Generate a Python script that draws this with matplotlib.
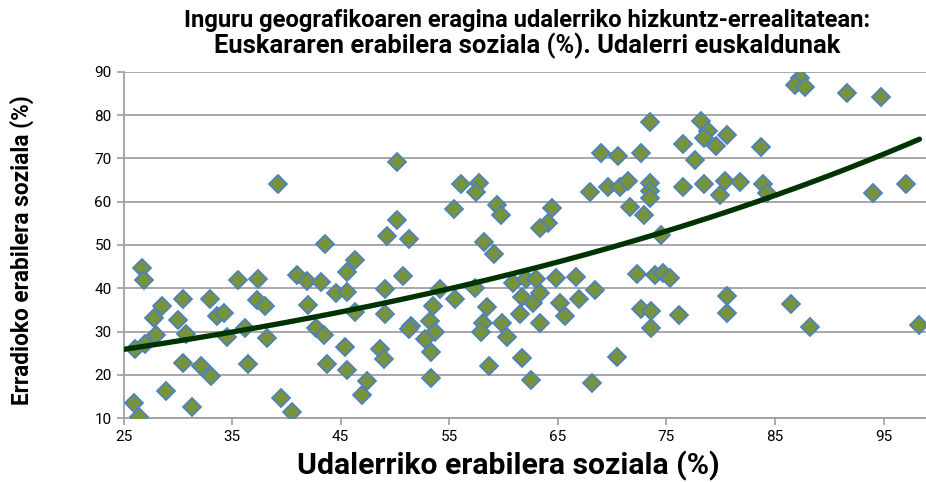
import numpy as np
import matplotlib
matplotlib.use("Agg")
import matplotlib.pyplot as plt

# Udalerriko erabilera soziala (%)
x_vals = [26.7, 26.9, 28.5, 27.8, 28.0, 27.0, 26.1, 30.5, 30.0, 30.8, 33.0, 33.6, 34.3, 34.5,
          30.5, 32.1, 33.1, 28.9, 26.0, 26.4, 31.3, 35.5, 39.2, 37.4, 37.3, 38.0, 36.2, 38.2,
          36.5, 39.5, 40.5, 43.6, 41.0, 41.9, 43.2, 42.0, 42.7, 43.5, 43.7, 44.6, 45.6, 45.6,
          45.4, 45.6, 50.2, 50.2, 49.3, 51.3, 55.4, 56.1, 46.3, 46.3, 50.7, 49.1, 49.1, 54.1,
          55.5, 53.5, 53.2, 51.5, 51.3, 53.7, 52.8, 53.3, 48.6, 49.0, 47.4, 47.0, 53.3, 57.7,
          57.5, 59.4, 59.8, 64.5, 64.1, 63.4, 58.2, 59.1, 57.4, 58.5, 58.1, 57.9, 59.9, 60.3,
          58.7, 61.7, 62.5, 60.9, 62.1, 63.0, 61.7, 62.7, 63.4, 61.5, 63.4, 64.8, 65.2, 65.7,
          66.7, 66.9, 73.5, 69.0, 70.5, 72.7, 76.5, 77.6, 68.0, 69.6, 70.7, 71.5, 73.5, 73.5,
          73.5, 71.6, 72.9, 76.5, 74.5, 68.4, 72.3, 73.9, 74.7, 75.3, 72.7, 73.6, 73.6, 76.2,
          70.4, 68.1, 87.3, 86.8, 87.8, 78.2, 78.8, 78.5, 79.6, 80.6, 83.7, 78.5, 80.4, 81.8,
          79.9, 83.9, 84.3, 80.6, 80.6, 86.5, 88.2, 91.6, 94.8, 94.0, 97.1, 98.3]
# Erradioko erabilera soziala (%)
y_vals = [44.8, 41.9, 35.9, 33.1, 29.2, 27.2, 25.9, 37.5, 32.7, 29.5, 37.5, 33.6, 34.4, 28.8,
          22.7, 22.1, 19.8, 16.4, 13.6, 10.2, 12.5, 41.9, 64.1, 42.1, 37.2, 35.9, 30.8, 28.6,
          22.5, 14.7, 11.5, 50.2, 43.1, 41.8, 41.5, 36.2, 30.8, 29.2, 22.5, 39.0, 43.8, 39.2,
          26.5, 21.1, 69.2, 55.8, 52.1, 51.5, 58.4, 64.1, 46.5, 34.6, 42.9, 39.9, 34.1, 39.8,
          37.5, 36.0, 32.5, 31.2, 30.6, 30.0, 28.3, 25.2, 26.0, 23.7, 18.6, 15.4, 19.4, 64.2,
          62.3, 59.2, 56.9, 58.5, 55.0, 53.9, 50.8, 47.9, 40.1, 35.8, 32.1, 30.0, 32.1, 28.7,
          22.1, 23.9, 18.8, 41.2, 42.1, 42.1, 38.1, 36.7, 39.0, 34.0, 32.1, 42.3, 36.6, 33.6,
          42.7, 37.5, 78.5, 71.2, 70.6, 71.3, 73.3, 69.6, 62.3, 63.3, 63.3, 64.8, 64.2, 62.5,
          60.8, 58.8, 56.9, 63.3, 52.3, 39.5, 43.3, 43.1, 43.5, 42.3, 35.2, 34.8, 30.9, 33.9,
          24.2, 18.2, 88.5, 86.9, 86.5, 78.6, 76.2, 74.6, 72.9, 75.3, 72.6, 64.1, 64.8, 64.6,
          61.5, 64.1, 61.9, 38.2, 34.4, 36.4, 31.1, 85.0, 84.2, 62.1, 64.0, 31.5]

# exponential trendline y = a * exp(b * x)
trend_a = 18.07
trend_b = 0.01440

x_ticks = [25, 35, 45, 55, 65, 75, 85, 95]
y_ticks = [10, 20, 30, 40, 50, 60, 70, 80, 90]

title_lines = ["Inguru geografikoaren eragina udalerriko hizkuntz-errealitatean:",
               "Euskararen erabilera soziala (%). Udalerri euskaldunak"]
xlabel = "Udalerriko erabilera soziala (%)"
ylabel = "Erradioko erabilera soziala (%)"

plt.rcParams['font.family'] = ['Roboto', 'DejaVu Sans']

W, H = 926, 482
fig = plt.figure(figsize=(W / 100, H / 100), dpi=100)
ax = fig.add_axes([123.5 / W, 63.7 / H, (W - 123.5) / W, (418.3 - 71.7) / H])

x = np.array(x_vals)
y = np.array(y_vals)
xt = np.linspace(25, x.max(), 200)
yt = trend_a * np.exp(trend_b * xt)

ax.plot(x, y, linestyle='none', marker='D', markersize=9,
        markerfacecolor='#77933C', markeredgecolor='#4F81BD', markeredgewidth=1.3, zorder=3)
ax.plot(xt, yt, color='#003300', linewidth=3.8, solid_capstyle='round', zorder=4)

ax.set_xlim(25, 98.9)
ax.set_ylim(10, 90)
ax.set_xticks(x_ticks)
ax.set_yticks(y_ticks)
ax.tick_params(axis='both', labelsize=11, labelcolor='#000000', length=5, width=1.2,
               direction='out', color='#A0A0A0')
ax.yaxis.grid(True, color='#A0A0A0', linewidth=1.3)
ax.set_axisbelow(True)
for s in ['top', 'right']:
    ax.spines[s].set_visible(False)
for s in ['left', 'bottom']:
    ax.spines[s].set_color('#A0A0A0')
    ax.spines[s].set_linewidth(1.3)

renderer = fig.canvas.get_renderer()


def fit_text(t, target_px, horizontal=True):
    t.set_fontsize(12)
    bb = t.get_window_extent(renderer)
    cur = bb.width if horizontal else bb.height
    t.set_fontsize(12 * target_px / cur)


t1 = fig.text(527 / W, 1 - 21 / H, title_lines[0], ha='center', va='center', fontweight='bold')
fit_text(t1, 686)
t2 = fig.text(527 / W, 1 - 46 / H, title_lines[1], ha='center', va='center', fontweight='bold')
fit_text(t2, 623)
tx = fig.text(508 / W, 1 - 466 / H, xlabel, ha='center', va='center', fontweight='bold')
fit_text(tx, 420)
ty = fig.text(22 / W, 1 - 250 / H, ylabel, ha='center', va='center', fontweight='bold',
              rotation=90)
fit_text(ty, 308, horizontal=False)

fig.savefig('out.png', dpi=100)
